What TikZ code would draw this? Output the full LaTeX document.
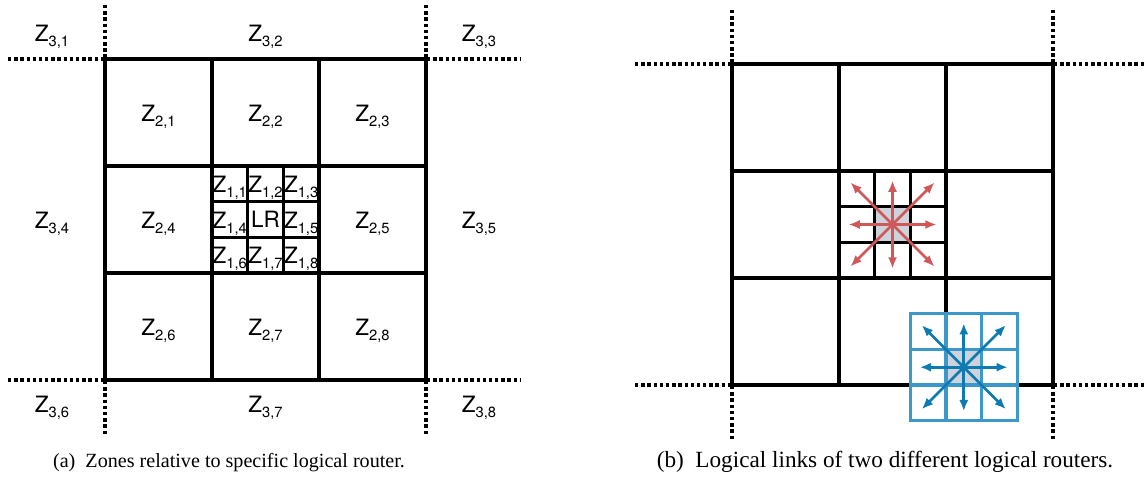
\documentclass[tikz,border=0pt]{standalone}
\usepackage{fontspec}
\setmainfont{Liberation Serif}
\newfontfamily\zonefont{TeX Gyre Heros}
\usetikzlibrary{arrows.meta, positioning, calc}
\definecolor{linkred}{RGB}{208,88,88}
\definecolor{linkblue}{RGB}{14,122,178}
\definecolor{gridblue}{RGB}{60,152,202}
\definecolor{lrgray}{RGB}{206,210,218}

% zone label with lowered index
\newcommand{\zn}[1]{Z\raisebox{-3.5pt}{\fontsize{10.5}{12}\selectfont #1}}

\begin{document}
\begin{tikzpicture}[x=0.025cm, y=-0.025cm,
    wall/.style={line width=2.5pt, line cap=rect},
    subwall/.style={line width=2.2pt},
    bluewall/.style={line width=2.3pt, draw=gridblue, line cap=rect},
    border/.style={line width=2.4pt, dash pattern=on 2.4pt off 2pt},
    zone/.style={font=\zonefont\fontsize{16}{19}\selectfont, inner sep=0pt},
    caption/.style={font=\fontsize{16.5}{19}\selectfont, anchor=base},
    link/.style={{Latex[length=8pt,width=6.5pt]}-{Latex[length=8pt,width=6.5pt]}, line width=1.9pt}
]
    \useasboundingbox (0,0) rectangle (1147,487);

    % Gray logical routers (right panel)
    \fill[lrgray] (874.7,206.7) rectangle (910.3,242.3);
    \fill[lrgray] (946,349) rectangle (981.7,385);

    % Frame, level-2 grid and dotted borders, same in both panels
    \foreach \dx/\dy in {0/0, 627/5} {
        \begin{scope}[shift={(\dx,\dy)}]
            \foreach \i in {0,...,3} {
                \draw[wall] (105+107*\i,59) -- ++(0,321);
                \draw[wall] (105,59+107*\i) -- ++(321,0);
            }
            % level-1 grid inside the centre zone
            \foreach \k in {1,2} {
                \draw[subwall] (212+35.67*\k,166) -- ++(0,107);
                \draw[subwall] (212,166+35.67*\k) -- ++(107,0);
            }
            \foreach \x in {105,426} {
                \draw[border] (\x,5) -- (\x,58);
                \draw[border] (\x,381) -- (\x,435);
            }
            \foreach \y in {59,380} {
                \draw[border] (8,\y) -- (104,\y);
                \draw[border] (427,\y) -- (521,\y);
            }
        \end{scope}
    }

    % Zone labels, level 3
    \node[zone] (z31) at (52,37) {\zn{3,1}};
    \node[zone] (z32) at (265.5,37) {\zn{3,2}};
    \node[zone] (z33) at (479,37) {\zn{3,3}};
    \node[zone] (z34) at (52,223.5) {\zn{3,4}};
    \node[zone] (z35) at (479,223.5) {\zn{3,5}};
    \node[zone] (z36) at (52,408) {\zn{3,6}};
    \node[zone] (z37) at (265.5,408) {\zn{3,7}};
    \node[zone] (z38) at (479,408) {\zn{3,8}};

    % Zone labels, level 2
    \foreach \n/\c/\r in {1/0/0, 2/1/0, 3/2/0, 4/0/1, 5/2/1, 6/0/2, 7/1/2, 8/2/2}
        \node[zone] (z2\n) at (158.5+107*\c, 116.5+107*\r) {\zn{2,\n}};

    % Zone labels, level 1 around the logical router
    \foreach \n/\c/\r in {1/0/0, 2/1/0, 3/2/0, 4/0/1, 5/2/1, 6/0/2, 7/1/2, 8/2/2}
        \node[zone] (z1\n) at (229.8+35.67*\c, 187.8+35.67*\r) {\zn{1,\n}};
    \node[zone] (lr) at (265.5,219.5) {LR};

    % Second logical router, grid in blue over the frame
    \foreach \k in {0,...,3} {
        \draw[bluewall] (910.3+35.67*\k,313.7) -- ++(0,107);
        \draw[bluewall] (910.3,313.7+35.67*\k) -- ++(107,0);
    }

    % Logical links of both routers
    \coordinate (lrred) at (892.5,224.5);
    \coordinate (lrblue) at (963.8,367.2);
    \foreach \ex/\ey in {44/0, 0/44, 42/42, 42/-42} {
        \draw[link, linkred] ($(lrred)+(-\ex,-\ey)$) -- ($(lrred)+(\ex,\ey)$);
        \draw[link, linkblue] ($(lrblue)+(-\ex,-\ey)$) -- ($(lrblue)+(\ex,\ey)$);
    }

    % Captions
    \node[caption, font=\fontsize{14.3}{17}\selectfont] (capa) at (229,467) {(a)\enspace Zones relative to specific logical router.};
    \node[caption] (capb) at (885,467) {(b)\enspace Logical links of two different logical routers.};
\end{tikzpicture}
\end{document}
